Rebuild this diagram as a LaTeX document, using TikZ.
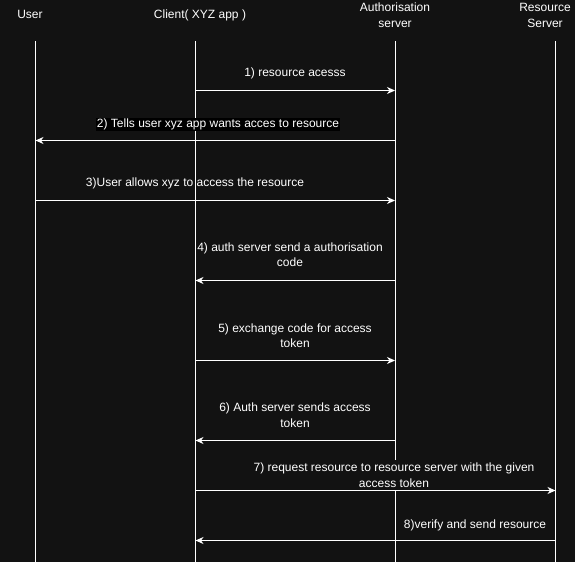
\documentclass[tikz,border=0pt]{standalone}
\usepackage{fontspec}
\setmainfont{Liberation Sans}
\usetikzlibrary{arrows.meta,calc,positioning}
\definecolor{darkbg}{RGB}{18,18,18}
\tikzset{
headstyle/.style={
  text=white,
  align=center,
  inner sep=0pt,
  anchor=base,
  font=\fontsize{12bp}{16bp}\selectfont,
  }
}
\tikzset{
msgstyle/.style={
  text=white,
  align=center,
  inner sep=0pt,
  anchor=base,
  font=\fontsize{12bp}{15.5bp}\selectfont,
  }
}
\tikzset{
lifeline/.style={
  line width=1bp,
  draw=white,
  }
}
\tikzset{
msgline/.style={
  line width=1bp,
  draw=white,
  -{Stealth[length=8bp,width=7bp,inset=2.5bp]}
  }
}
\begin{document}
\begin{tikzpicture}[x=1bp,y=-1bp]
	\useasboundingbox (0,0) rectangle (575,562);
	\path [fill=darkbg] (0,0) rectangle (575,562);
	\node[headstyle] (user) at (30,19) {User};
	\node[headstyle] (client) at (200,19) {Client( XYZ app )};
	\node[headstyle] (auth) at (395,27.3) {Authorisation\\server};
	\node[headstyle] (res) at (545,27.3) {Resource\\Server};
	\coordinate (userl) at (35.5,41);
	\coordinate (clientl) at (195.5,41);
	\coordinate (authl) at (395,41);
	\coordinate (resl) at (555.5,41);
	\coordinate (bot) at (0,562);
	\draw[lifeline] (userl) -- (userl |- bot);
	\draw[lifeline] (clientl) -- (clientl |- bot);
	\draw[lifeline] (authl) -- (authl |- bot);
	\draw[lifeline] (resl) -- (resl |- bot);
	% message rows
	\coordinate (r1) at (0,90.5);
	\coordinate (r2) at (0,140.5);
	\coordinate (r3) at (0,200.5);
	\coordinate (r4) at (0,280.5);
	\coordinate (r5) at (0,360.5);
	\coordinate (r6) at (0,440.5);
	\coordinate (r7) at (0,490.5);
	\coordinate (r8) at (0,540.5);
	\node[msgstyle] (m1) at (295,77) {1) resource acesss};
	\node[msgstyle, fill=black, inner sep=1bp] (m2) at (218,128) {2) Tells user xyz app wants acces to resource};
	\node[msgstyle] (m3) at (195,187) {3)User allows xyz to access the resource};
	\node[msgstyle] (m4) at (290,266.8) {4) auth server send a authorisation\\code};
	\node[msgstyle] (m5) at (295,347.5) {5) exchange code for access\\token};
	\node[msgstyle] (m6) at (295,427.2) {6) Auth server sends access\\token};
	\node[msgstyle, fill=darkbg, inner sep=3bp] (m7) at (394,487.2) {7) request resource to resource server with the given\\access token};
	\node[msgstyle] (m8) at (475,528) {8)verify and send resource};
	\draw[msgline] (clientl |- r1) -- (authl |- r1);
	\draw[msgline] (authl |- r2) -- (userl |- r2);
	\draw[msgline] (userl |- r3) -- (authl |- r3);
	\draw[msgline] (authl |- r4) -- (clientl |- r4);
	\draw[msgline] (clientl |- r5) -- (authl |- r5);
	\draw[msgline] (authl |- r6) -- (clientl |- r6);
	\draw[msgline] (clientl |- r7) -- (resl |- r7);
	\draw[msgline] (resl |- r8) -- (clientl |- r8);
\end{tikzpicture}
\end{document}
